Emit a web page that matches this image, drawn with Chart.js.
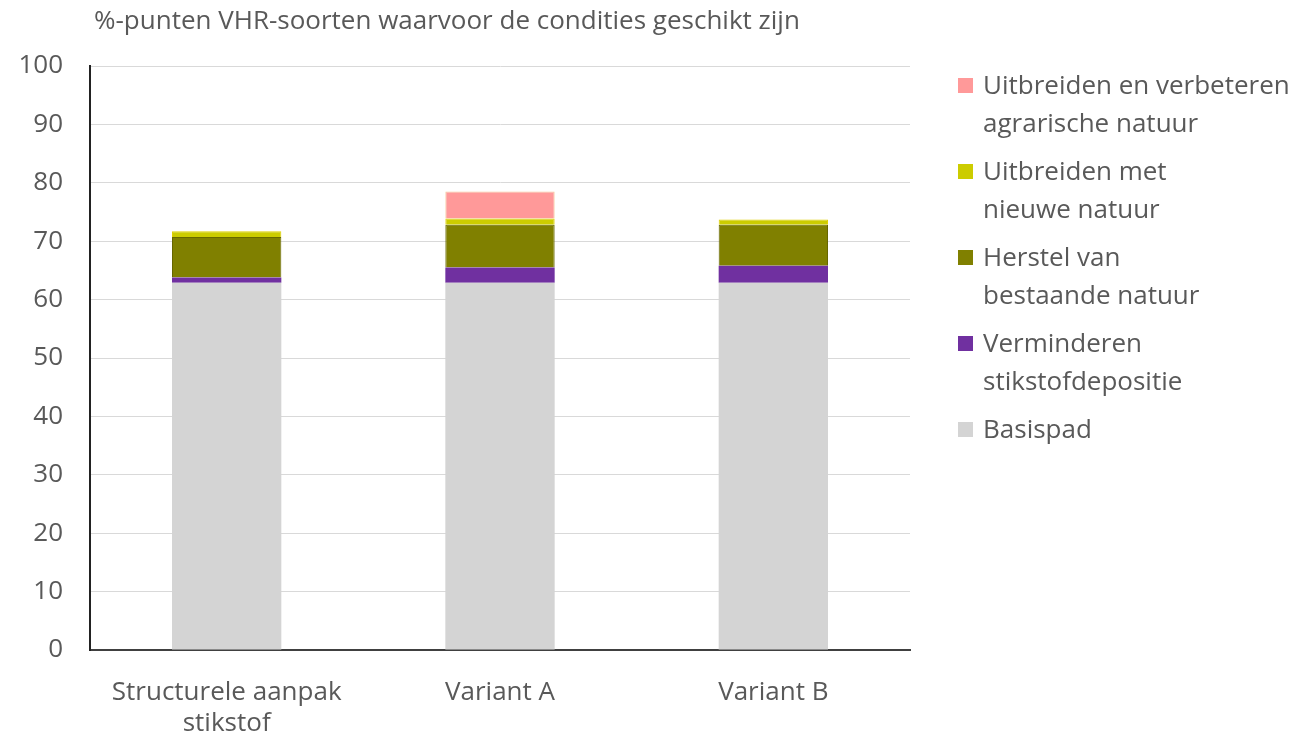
<!DOCTYPE html>
<html>
<head>
<meta charset="utf-8">
<script src="https://cdn.jsdelivr.net/npm/chart.js@4.4.0/dist/chart.umd.min.js"></script>
<style>
  html, body { margin: 0; padding: 0; background: #ffffff; }
  #wrap { position: relative; width: 1294px; height: 735px; }
  #c { position: absolute; left: 0; top: 0; }
  #legend { position: absolute; left: 958px; top: 66px; font-family: "Open Sans", Lato, sans-serif; font-size: 26px; color: #595959; }
  .item { position: relative; padding-left: 25px; line-height: 37.5px; margin-bottom: 11px; white-space: nowrap; }
  .sw { position: absolute; left: 0; top: 12px; width: 15px; height: 15px; }
</style>
</head>
<body>
<div id="wrap">
  <canvas id="c" width="1294" height="735"></canvas>
  <div id="legend"></div>
</div>
<script>
// ---- data ----
const categories = [["Structurele aanpak", "stikstof"], "Variant A", "Variant B"];
const basispad = [62.9, 62.9, 62.9];
const verminderenStikstofdepositie = [0.9, 2.6, 2.9];
const herstelBestaandeNatuur = [6.9, 7.3, 7.0];
const uitbreidenNieuweNatuur = [1.0, 1.1, 0.9];
const uitbreidenAgrarischeNatuur = [0, 4.6, 0];
const yTicks = [0, 10, 20, 30, 40, 50, 60, 70, 80, 90, 100];
const title = "%-punten VHR-soorten waarvoor de condities geschikt zijn";

const seriesNames = [
  "Basispad",
  "Verminderen stikstofdepositie",
  "Herstel van bestaande natuur",
  "Uitbreiden met nieuwe natuur",
  "Uitbreiden en verbeteren agrarische natuur"
];
const legendLines = [
  ["Uitbreiden en verbeteren", "agrarische natuur"],
  ["Uitbreiden met", "nieuwe natuur"],
  ["Herstel van", "bestaande natuur"],
  ["Verminderen", "stikstofdepositie"],
  ["Basispad"]
];
const colors = ["#d4d4d4", "#7030a0", "#808000", "#cccc00", "#ff9999"];
const borders = ["#d4d4d4", "#7030a0", "#666600", "#e0d000", "#f5c89a"];

const FONT = "'Open Sans', Lato, sans-serif";
const TXT = "#595959";

const values = [basispad, verminderenStikstofdepositie, herstelBestaandeNatuur, uitbreidenNieuweNatuur, uitbreidenAgrarischeNatuur];
const datasets = values.map((v, i) => ({
  label: seriesNames[i],
  data: v,
  backgroundColor: colors[i],
  borderColor: borders[i],
  borderWidth: i >= 2 ? 1 : 0,
  barPercentage: 0.4,
  categoryPercentage: 1.0
}));

const titlePlugin = {
  id: 'topTitle',
  afterDraw(chart) {
    const ctx = chart.ctx;
    ctx.save();
    ctx.font = "26px " + FONT;
    ctx.fillStyle = TXT;
    ctx.textBaseline = "middle";
    ctx.textAlign = "left";
    ctx.fillText(title, chart.chartArea.left + 4, 22);
    ctx.restore();
  }
};

new Chart(document.getElementById('c'), {
  type: 'bar',
  data: { labels: categories, datasets },
  options: {
    responsive: false,
    animation: false,
    layout: { padding: { left: 0, right: 384, top: 66, bottom: 0 } },
    plugins: { legend: { display: false }, tooltip: { enabled: false } },
    scales: {
      x: {
        stacked: true,
        grid: { display: false },
        border: { color: "#404040", width: 2 },
        ticks: { color: TXT, font: { family: FONT, size: 26, lineHeight: 1.2 }, padding: 19, maxRotation: 0, autoSkip: false },
        afterFit(s) { s.height = 85; }
      },
      y: {
        stacked: true,
        min: 0, max: 100,
        afterBuildTicks(s) { s.ticks = yTicks.map(v => ({ value: v })); },
        grid: { color: "#d9d9d9", lineWidth: 1, drawTicks: false },
        border: { color: "#222222", width: 2 },
        ticks: { color: TXT, font: { family: FONT, size: 26 }, padding: 27 },
        afterFit(s) { s.width = 90; }
      }
    }
  },
  plugins: [titlePlugin]
});

// HTML legend built from the series arrays
const leg = document.getElementById('legend');
const order = [4, 3, 2, 1, 0];
order.forEach((si, k) => {
  const d = document.createElement('div');
  d.className = 'item';
  const sw = document.createElement('span');
  sw.className = 'sw';
  sw.style.background = colors[si];
  d.appendChild(sw);
  legendLines[k].forEach((ln) => {
    const t = document.createElement('div');
    t.textContent = ln;
    d.appendChild(t);
  });
  leg.appendChild(d);
});
</script>
</body>
</html>
